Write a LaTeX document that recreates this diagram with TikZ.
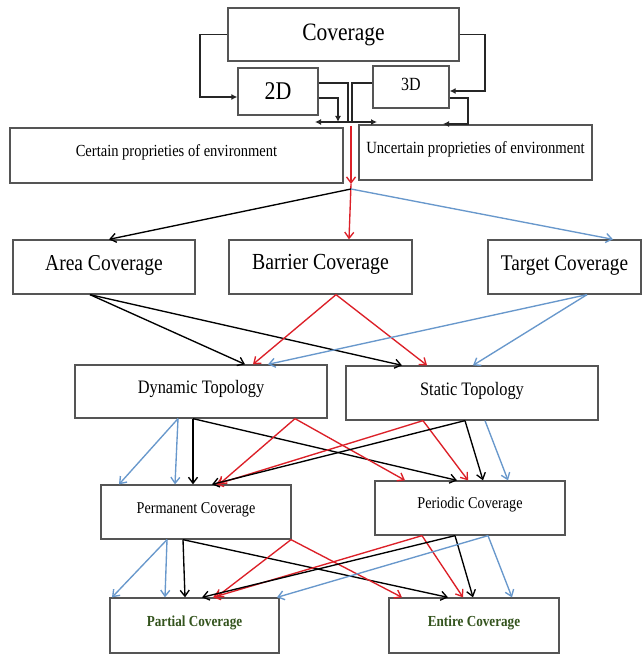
\documentclass[tikz,border=0pt]{standalone}
\usepackage{fontspec}
\setmainfont{Liberation Serif}[FakeStretch=0.86]
\usetikzlibrary{arrows.meta,calc}
\definecolor{linkred}{RGB}{220,32,40}
\definecolor{linkblue}{RGB}{104,152,204}
\definecolor{boxgray}{RGB}{85,85,85}
\definecolor{leafgreen}{RGB}{52,84,30}
\begin{document}
\begin{tikzpicture}[x=1pt,y=-1pt,
  box/.style={draw=boxgray, line width=1.3pt, fill=white, inner sep=0pt},
  lift/.style 2 args={text height=#1, text depth=#2},
  wire/.style={draw=black!85, line width=1.3pt},
  wirear/.style={wire, -{Latex[length=6pt,width=6pt]}},
  lnk/.style={line width=1.35pt, -{Straight Barb[length=6pt,width=9pt]}},
  blk/.style={lnk, draw=black},
  rd/.style={lnk, draw=linkred},
  bl/.style={lnk, draw=linkblue}]
\fill[white] (0,0) rectangle (643,655);
\useasboundingbox (0,0) rectangle (643,655);

% top block
\node[box, minimum width=231pt, minimum height=53pt, font=\fontsize{25}{28}\selectfont] (cov) at (343.5,34.5) {Coverage};
\node[box, minimum width=80pt, minimum height=47pt, font=\fontsize{25.5}{28}\selectfont] (d2) at (278,91.5) {2D};
\node[box, minimum width=76pt, minimum height=42pt, lift={13pt}{6pt}, font=\fontsize{18.6}{20}\selectfont] (d3) at (411,87) {3D};
\node[box, minimum width=333pt, minimum height=55pt, lift={12pt}{9pt}, font=\fontsize{16.9}{19}\selectfont] (cert) at (176.5,155.5) {Certain proprieties of environment};
\node[box, minimum width=233pt, minimum height=55pt, lift={12pt}{10pt}, font=\fontsize{17.1}{19}\selectfont] (unc) at (475.5,152.5) {Uncertain proprieties of environment};

% coverage types
\node[box, minimum width=182pt, minimum height=54pt, lift={16pt}{10pt}, font=\fontsize{22.7}{25}\selectfont] (area) at (104,267) {Area Coverage};
\node[box, minimum width=183pt, minimum height=54pt, lift={16pt}{12pt}, font=\fontsize{23}{25}\selectfont] (bar) at (320.5,267) {Barrier Coverage};
\node[box, minimum width=153pt, minimum height=54pt, lift={16pt}{10pt}, font=\fontsize{22.4}{25}\selectfont] (tgt) at (564.5,267) {Target Coverage};

% topologies
\node[box, minimum width=252pt, minimum height=53pt, lift={13.5pt}{9pt}, font=\fontsize{19}{21}\selectfont] (dyn) at (201,391.5) {Dynamic Topology};
\node[box, minimum width=252pt, minimum height=54pt, lift={13.5pt}{9pt}, font=\fontsize{19}{21}\selectfont] (stat) at (472,393) {Static Topology};

% time behaviour
\node[box, minimum width=190pt, minimum height=54pt, lift={12pt}{10pt}, font=\fontsize{16.5}{18}\selectfont] (perm) at (196,512) {Permanent Coverage};
\node[box, minimum width=190pt, minimum height=54pt, lift={12pt}{11pt}, font=\fontsize{16.5}{18}\selectfont] (per) at (470,508) {Periodic Coverage};

% extent
\node[box, minimum width=169pt, minimum height=55pt, lift={11pt}{9pt}, text=leafgreen, font=\bfseries\fontsize{15.3}{17}\selectfont] (part) at (194.5,625.5) {Partial Coverage};
\node[box, minimum width=170pt, minimum height=55pt, lift={11pt}{9pt}, text=leafgreen, font=\bfseries\fontsize{15.3}{17}\selectfont] (ent) at (474,625.5) {Entire Coverage};

% wiring around the dimension boxes
\coordinate (busL) at (315,122);
\coordinate (busR) at (377,122);
\coordinate (d3ret) at (443,124);
\coordinate (redtop) at (351,126);
\coordinate (redend) at (351,184);
\coordinate (hub) at (351,189);

\draw[wirear] (cov.west) -- (200,0 |- cov.west) |- (d2.west |- 0,97);
\draw[wirear] (cov.east) -- (485,0 |- cov.east) |- (d3.east |- 0,91);
\draw[wire] (d2.east |- 0,83) -| (348,122);
\draw[wirear] (d2.east |- 0,98) -| (338,122);
\draw[wire] (d3.west |- 0,83) -| (352,122);
\draw[wirear] (d3.east |- 0,98) -| (468,124) -- (d3ret);
\draw[wire, {Latex[length=6pt,width=6pt]}-{Latex[length=6pt,width=6pt]}] (busL) -- (busR);

% fan-out to coverage types
\draw[rd] (redtop) -- (redend);
\draw[rd] (redend) -- (349,0 |- bar.north);
\draw[blk] (hub) -- (109,0 |- area.north);
\draw[bl] (hub) -- (613,0 |- tgt.north);

% coverage types to topologies
\draw[blk] (90,0 |- area.south) -- (245,0 |- dyn.north);
\draw[blk] (90,0 |- area.south) -- (402,0 |- stat.north);
\draw[rd] (336,0 |- bar.south) -- (253,0 |- dyn.north);
\draw[rd] (336,0 |- bar.south) -- (427,0 |- stat.north);
\draw[bl] (587,0 |- tgt.south) -- (268,0 |- dyn.north);
\draw[bl] (587,0 |- tgt.south) -- (473,0 |- stat.north);

% topologies to time behaviour
\draw[bl] (178,0 |- dyn.south) -- (119,0 |- perm.north);
\draw[bl] (178,0 |- dyn.south) -- (175,0 |- perm.north);
\draw[blk] (193,0 |- dyn.south) -- (193,0 |- perm.north);
\draw[blk] (193,0 |- dyn.south) -- (457,0 |- per.north);
\draw[rd] (295,0 |- dyn.south) -- (219,0 |- perm.north);
\draw[rd] (295,0 |- dyn.south) -- (405,0 |- per.north);
\draw[rd] (423,0 |- stat.south) -- (216,0 |- perm.north);
\draw[rd] (423,0 |- stat.south) -- (468,0 |- per.north);
\draw[blk] (465,0 |- stat.south) -- (212,0 |- perm.north);
\draw[blk] (465,0 |- stat.south) -- (483,0 |- per.north);
\draw[bl] (485,0 |- stat.south) -- (508,0 |- per.north);

% time behaviour to extent
\draw[bl] (167,0 |- perm.south) -- (112,0 |- part.north);
\draw[bl] (167,0 |- perm.south) -- (165,0 |- part.north);
\draw[blk] (183,0 |- perm.south) -- (185,0 |- part.north);
\draw[blk] (183,0 |- perm.south) -- (448,0 |- ent.north);
\draw[rd] (291,0 |- perm.south) -- (216,0 |- part.north);
\draw[rd] (291,0 |- perm.south) -- (402,0 |- ent.north);
\draw[rd] (422,0 |- per.south) -- (213,0 |- part.north);
\draw[rd] (422,0 |- per.south) -- (463,0 |- ent.north);
\draw[blk] (455,0 |- per.south) -- (202,0 |- part.north);
\draw[blk] (455,0 |- per.south) -- (473,0 |- ent.north);
\draw[bl] (488,0 |- per.south) -- (277,0 |- part.north);
\draw[bl] (488,0 |- per.south) -- (512,0 |- ent.north);
\end{tikzpicture}
\end{document}
